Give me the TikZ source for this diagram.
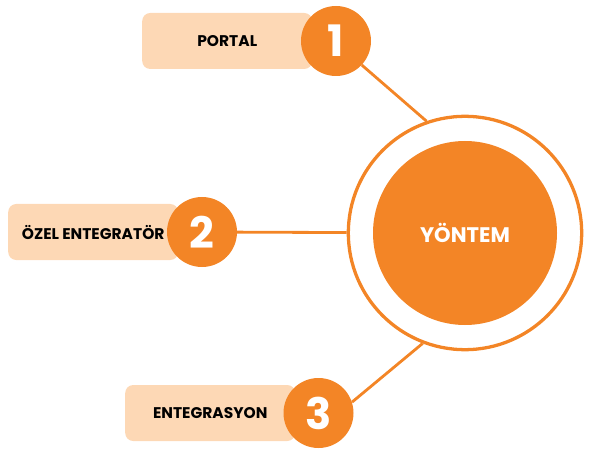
\documentclass[tikz,border=0pt]{standalone}
\usepackage{fontspec}
\setmainfont{Poppins}
\usepackage{tikz}
\definecolor{turuncu}{HTML}{F38526}
\definecolor{seftali}{HTML}{FDD8B5}
\tikzset{ %1 birim = 1 piksel
  {etiket/.style} ={rectangle, rounded corners=0.24cm, fill=seftali,
                anchor=west, minimum width=5.1cm, minimum height=1.68cm,
                font=\fontsize{13.2}{15}\selectfont\bfseries, text=black},
  {numara/.style} ={circle, fill=turuncu, minimum size=2.1cm, inner sep=0,
                text=white, font=\fontsize{37}{40}\selectfont\bfseries},
  {halka/.style} ={circle, draw=turuncu, line width=2.8pt, minimum size=7cm},
  {merkez/.style} ={circle, fill=turuncu, minimum size=5.52cm, text=white,
                font=\fontsize{18}{21}\selectfont\bfseries},
  {baglanti/.style} ={draw=turuncu, line width=2.4pt},
}

\begin{document}
\begin{tikzpicture}[x=0.03cm,y=-0.03cm]
    \useasboundingbox (0,0) rectangle (591,455);
    \node[etiket] (portal) at (142,41) {PORTAL};
    \node[etiket] (ozel) at (8,232) {ÖZEL ENTEGRATÖR};
    \node[etiket] (entegrasyon) at (125,413) {ENTEGRASYON};
    \node[numara] (n1) at (336,41) {1};
    \node[numara] (n2) at (202,232) {2};
    \node[numara] (n3) at (318.5,413) {3};
    \node[halka] (halka) at (465,233) {};
    \node[merkez] (yontem) at (465,233) {YÖNTEM};
    \draw[baglanti] (n1.-43) -- (halka.109);
    \draw[baglanti] (n2) -- (halka);
    \draw[baglanti] (n3.18) -- (halka.249);
\end{tikzpicture}
\end{document}
